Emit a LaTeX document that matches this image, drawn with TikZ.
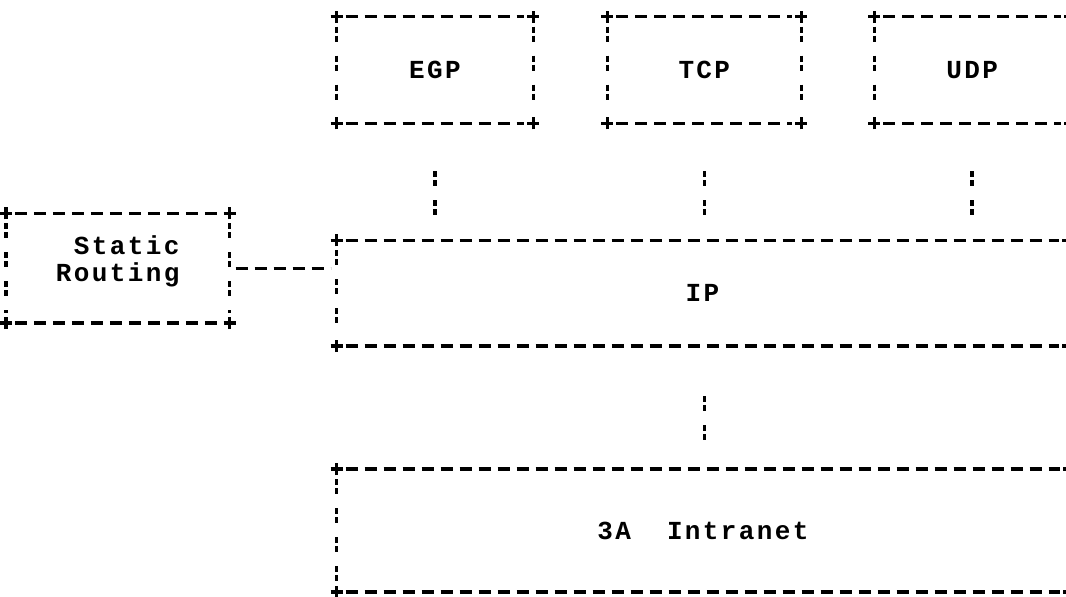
\documentclass[tikz,border=0pt]{standalone}
\usepackage{fontspec}
\setmonofont[LetterSpace=9.2]{Liberation Mono}
\usetikzlibrary{positioning}

\begin{document}
\begin{tikzpicture}[
  box/.style={inner sep=0pt, font=\ttfamily\bfseries\fontsize{13}{13.5}\selectfont, align=center},
  hline/.style={line width=1.7pt, dash pattern=on 6pt off 3.5pt, shorten <=4.5pt, shorten >=4.5pt},
  vline/.style={line width=1.7pt, dash pattern=on 3pt off 1.5pt on 3pt off 7pt, shorten <=5pt, shorten >=5pt},
  link/.style={line width=1.7pt, dash pattern=on 3pt off 1.5pt on 3pt off 7pt},
  corner/.style={line width=1.7pt}
]
\useasboundingbox (0,0) rectangle (533pt,-298.5pt);

% upper protocols
\node[box, minimum width=98pt, minimum height=53pt] (egp) at (217.5pt,-35pt) {EGP};
\node[box, minimum width=96.5pt, minimum height=53pt, right=37pt of egp] (tcp) {TCP};
\node[box, minimum width=97.5pt, minimum height=53pt, right=36.5pt of tcp] (udp) {UDP};

% IP and below
\node[box, minimum width=365.5pt, minimum height=52.5pt, below=58.5pt of egp.south west, anchor=north west] (ip) {IP};
\node[box, minimum width=366pt, minimum height=61pt, below=61.5pt of ip.south west, anchor=north west] (net) {3A\ \ Intranet};
\node[box, align=left, minimum width=111.5pt, minimum height=54.5pt, left=53.5pt of ip.west, yshift=12.5pt] (static)
  {\raisebox{3pt}[\height][\depth]{\begin{tabular}{@{}l@{}}\ Static\\Routing\end{tabular}}};

% dashed boxes with + corners
\foreach \n in {egp,tcp,udp,ip,net,static} {
  \draw[hline] (\n.north west) -- (\n.north east);
  \draw[hline] (\n.south west) -- (\n.south east);
  \draw[vline] (\n.north west) -- (\n.south west);
  \draw[vline] (\n.north east) -- (\n.south east);
  \foreach \c in {north west,north east,south west,south east}
    \draw[corner] ([xshift=-3pt]\n.\c) -- ([xshift=3pt]\n.\c)
                  ([yshift=-3pt]\n.\c) -- ([yshift=3pt]\n.\c);
}

% links
\draw[link, shorten <=24pt, shorten >=9pt] (egp.south) -- (egp.south |- ip.north);
\draw[link, shorten <=24pt, shorten >=9pt] (tcp.south) -- (tcp.south |- ip.north);
\draw[link, shorten <=24pt, shorten >=9pt] (udp.south) -- (udp.south |- ip.north);
\draw[link, shorten <=25pt, shorten >=14pt] (ip.south -| tcp.south) -- (net.north -| tcp.south);
\draw[hline, shorten <=3pt, shorten >=3pt] (static.east) -- (static.east -| ip.west);
\end{tikzpicture}
\end{document}
